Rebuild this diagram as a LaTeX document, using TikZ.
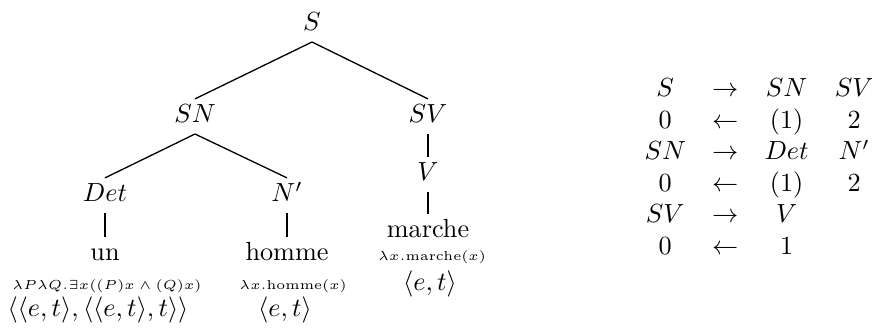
\documentclass[tikz,border=0pt]{standalone}
\usepackage{amssymb}
\begin{document}
\begin{tikzpicture}[x=0.3817pt, y=-0.3817pt,
  cat/.style={anchor=base, inner sep=2pt, text height=7pt, text depth=2pt},
  sem/.style={anchor=base, inner sep=0pt, font=\tiny},
  typ/.style={anchor=base, inner sep=0pt},
  edge/.style={line width=0.5pt}]
\useasboundingbox (0,0) rectangle (872,332);
% tree nodes
\node[cat] (S) at (312,31) {$S$};
\node[cat] (SN) at (195,123) {$SN$};
\node[cat] (SV) at (428,123) {$SV$};
\node[cat] (Det) at (105,202) {$Det$};
\node[cat] (Np) at (287,202) {$N'$};
\node[cat] (V) at (428,181) {$V$};
\node[cat] (un) at (105,261) {un};
\node[cat] (homme) at (287,261) {homme};
\node[cat] (marche) at (428,238) {marche};
% edges
\draw[edge] (S.south) -- (SN.north);
\draw[edge] (S.south) -- (SV.north);
\draw[edge] (SN.south) -- (Det.north);
\draw[edge] (SN.south) -- (Np.north);
\draw[edge] (SV.south) -- (V.north);
\draw[edge] (V.south) -- (marche.north);
\draw[edge] (Det.south) -- (un.north);
\draw[edge] (Np.south) -- (homme.north);
% semantics
\node[sem] (semun) at (107,290) {$\lambda P\lambda Q.\exists x((P)x\wedge(Q)x)$};
\node[typ] (typun) at (98,316) {$\langle\langle e,t\rangle,\langle\langle e,t\rangle,t\rangle\rangle$};
\node[sem] (semhomme) at (293,290) {$\lambda x.\mathrm{homme}(x)$};
\node[typ] (typhomme) at (285,316) {$\langle e,t\rangle$};
\node[sem] (semmarche) at (432,261) {$\lambda x.\mathrm{marche}(x)$};
\node[typ] (typmarche) at (430,291) {$\langle e,t\rangle$};
% rules
\node[anchor=base west, inner sep=0pt] (rules) at (644,97) {$\begin{array}[t]{@{}cccc@{}}
S & \rightarrow & SN & SV\\
0 & \leftarrow & (1) & 2\\
SN & \rightarrow & Det & N'\\
0 & \leftarrow & (1) & 2\\
SV & \rightarrow & V & \\
0 & \leftarrow & 1 &
\end{array}$};
\end{tikzpicture}
\end{document}
